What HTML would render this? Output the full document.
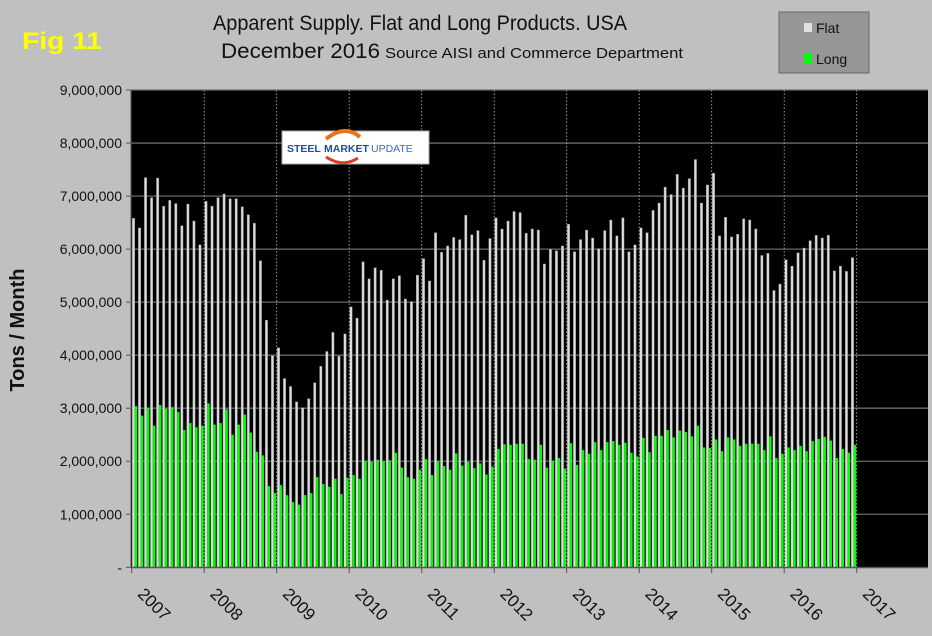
<!DOCTYPE html>
<html><head><meta charset="utf-8"><style>
body{margin:0;background:#c0c0c0;}
svg{display:block;font-family:"Liberation Sans",Arial,sans-serif;}
</style></head><body>
<svg id="chart" width="932" height="636" viewBox="0 0 932 636">
<rect x="0" y="0" width="932" height="636" fill="#c0c0c0"/>
<text x="22" y="49" font-size="24" font-weight="bold" fill="#ffff00" textLength="80" lengthAdjust="spacingAndGlyphs">Fig 11</text>
<text x="213" y="30" font-size="21" fill="#111" textLength="414" lengthAdjust="spacingAndGlyphs">Apparent Supply. Flat and Long Products. USA</text>
<text x="221" y="58" font-size="21" fill="#111" textLength="159" lengthAdjust="spacingAndGlyphs">December 2016</text>
<text x="385" y="58" font-size="15" fill="#111" textLength="298" lengthAdjust="spacingAndGlyphs">Source AISI and Commerce Department</text>
<g>
<rect x="779" y="12" width="90" height="61" fill="#969696" stroke="#666"/>
<rect x="804" y="23" width="8" height="9" fill="#e0e0e0"/>
<text x="816" y="33" font-size="14" fill="#111">Flat</text>
<rect x="804" y="54" width="8" height="9" fill="#00ff00"/>
<text x="816" y="64" font-size="14" fill="#111">Long</text>
</g>
<text transform="translate(24,330) rotate(-90)" font-size="20" font-weight="bold" text-anchor="middle" fill="#111">Tons / Month</text>
<rect x="131" y="90" width="797" height="477" fill="#000"/>
<g id="grid"></g>
<g id="bars"></g>
<g id="axes"></g>
<g>
<rect x="282" y="131" width="147" height="33" fill="#fff" stroke="#aaa"/>
<path d="M326 139 Q345 124 360 137" stroke="#e8731a" stroke-width="4" fill="none"/>
<path d="M326 157 Q343 168 358 158" stroke="#d9402a" stroke-width="3" fill="none"/>
<text x="287" y="152" font-size="10.5" font-weight="bold" fill="#1f4f9a">STEEL</text>
<text x="324" y="152" font-size="10.5" font-weight="bold" fill="#1f4f9a">MARKET</text>
<text x="371" y="152" font-size="10.5" fill="#3a6fb5">UPDATE</text>
</g>
</svg>
<script>
const years=["2007","2008","2009","2010","2011","2012","2013","2014","2015","2016","2017"];
const yTicks=["-","1,000,000","2,000,000","3,000,000","4,000,000","5,000,000","6,000,000","7,000,000","8,000,000","9,000,000"];
const flat=[6.58,6.40,7.35,6.97,7.34,6.81,6.92,6.86,6.44,6.85,6.53,6.08,
6.90,6.81,6.97,7.04,6.95,6.95,6.80,6.65,6.49,5.78,4.66,3.99,
4.14,3.56,3.41,3.12,3.01,3.18,3.48,3.79,4.07,4.43,3.98,4.40,
4.91,4.70,5.76,5.44,5.65,5.60,5.04,5.44,5.50,5.06,5.01,5.51,
5.82,5.40,6.31,5.94,6.06,6.22,6.18,6.64,6.27,6.35,5.79,6.20,
6.59,6.38,6.53,6.71,6.69,6.30,6.38,6.36,5.72,6.00,5.97,6.06,
6.47,5.95,6.18,6.36,6.21,6.01,6.35,6.55,6.25,6.59,5.95,6.08,
6.40,6.31,6.73,6.87,7.17,7.03,7.41,7.15,7.33,7.69,6.87,7.21,
7.43,6.25,6.60,6.23,6.28,6.57,6.55,6.38,5.88,5.92,5.22,5.34,
5.80,5.68,5.93,6.02,6.16,6.26,6.21,6.26,5.59,5.68,5.58,5.84];
const long=[3.04,2.86,3.01,2.67,3.06,2.99,3.02,2.93,2.59,2.72,2.64,2.67,
3.09,2.69,2.72,2.98,2.50,2.69,2.88,2.54,2.18,2.11,1.53,1.40,
1.55,1.36,1.23,1.18,1.36,1.40,1.70,1.57,1.52,1.67,1.38,1.69,
1.74,1.67,2.01,1.99,2.03,2.00,2.02,2.16,1.88,1.70,1.67,1.84,
2.04,1.74,2.01,1.91,1.84,2.15,1.92,1.99,1.87,1.96,1.75,1.90,
2.23,2.32,2.31,2.33,2.33,2.04,2.03,2.31,1.88,2.01,2.06,1.86,
2.34,1.93,2.21,2.14,2.36,2.21,2.36,2.38,2.31,2.35,2.16,2.09,
2.44,2.17,2.48,2.48,2.59,2.45,2.58,2.55,2.47,2.67,2.26,2.25,
2.41,2.19,2.45,2.41,2.29,2.33,2.33,2.33,2.21,2.47,2.06,2.14,
2.26,2.21,2.29,2.19,2.38,2.42,2.46,2.39,2.06,2.23,2.16,2.31];
const NS="http://www.w3.org/2000/svg";
const X0=131.7,YEARW=72.5,Y0=567.3,PERM=53.03;
function xMonth(i){return X0+i*YEARW/12;}
function yVal(v){return Y0-v*PERM;}
function mk(tag,attrs,parent){const e=document.createElementNS(NS,tag);for(const k in attrs)e.setAttribute(k,attrs[k]);parent.appendChild(e);return e;}
const grid=document.getElementById('grid'),bars=document.getElementById('bars'),axes=document.getElementById('axes');
yTicks.forEach((t,i)=>{
  const y=yVal(i);
  if(i>0){const l=mk('line',{x1:131,x2:928,y1:y,y2:y,stroke:'#6a6a6a','stroke-width':1.3},grid);
  
  }
  const tk=mk('line',{x1:126,x2:131,y1:y,y2:y,stroke:'#555'},axes);
  
  
  const tx=mk('text',{x:122,y:y+5,'font-size':14,'text-anchor':'end',fill:'#111'},axes);
  tx.textContent=t;
  
  
});
years.forEach((yr,i)=>{
  const x=xMonth(i*12);
  if(i>0){const l=mk('line',{x1:x,x2:x,y1:90,y2:567,stroke:'#bbb','stroke-dasharray':'1.5,2','stroke-width':0.8},grid);
  
  }
  const tk=mk('line',{x1:x,x2:x,y1:567,y2:573,stroke:'#555'},axes);
  
  
  const tx=mk('text',{x:0,y:0,'font-size':17,fill:'#111',transform:`translate(${x+5},${595}) rotate(45)`},axes);
  tx.textContent=yr;
  
  
});
flat.forEach((v,i)=>{
  const x=xMonth(i);
  const r=mk('rect',{x:x+0.6,y:yVal(v),width:2.4,height:Y0-yVal(v),fill:'#dcdcdc',stroke:'#888','stroke-width':0.4},bars);
  
  
});
long.forEach((v,i)=>{
  const x=xMonth(i);
  const r=mk('rect',{x:x+3.1,y:yVal(v),width:2.4,height:Y0-yVal(v),fill:'#00ff00'},bars);
  
  
});
const ax=mk('line',{x1:131,x2:928,y1:567.5,y2:567.5,stroke:'#555','stroke-width':1.5},axes);


const ay=mk('line',{x1:131,x2:131,y1:90,y2:567,stroke:'#555','stroke-width':1},axes);


</script>
</body></html>
